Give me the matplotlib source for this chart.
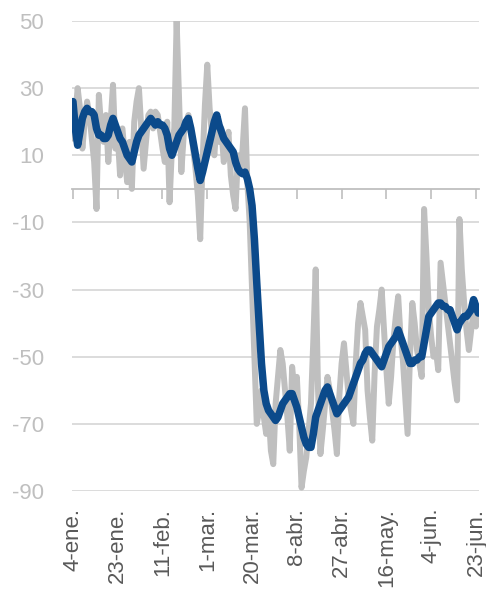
import matplotlib
matplotlib.use('Agg')
import matplotlib.pyplot as plt
import numpy as np

plt.rcParams['font.family'] = ['Liberation Sans', 'DejaVu Sans']
plt.rcParams['axes.unicode_minus'] = False

# daily values from 4-ene. (gray) and the smoothed series (blue)
gray = [15, 22, 30, 24, 12, 20, 26, 22, 15, 8,
        -6, 28, 18, 14, 22, 8, 20, 31, 12, 16,
        4, 18, 10, 2, 14, 0, 20, 26, 30, 18,
        6, 14, 22, 23, 18, 23, 22, 17, 12, 8,
        20, -4, 12, 18, 50, 28, 5, 16, 20, 22,
        18, 12, 6, -2, -15, 8, 25, 37, 24, 16,
        10, 20, 14, 18, 8, 12, 17, 4, -2, -6,
        10, 5, 12, 24, 2, -10, -30, -50, -70, -66,
        -60, -68, -73, -66, -78, -82, -64, -56, -48, -52,
        -60, -68, -78, -53, -60, -56, -70, -89, -84, -80,
        -72, -64, -45, -24, -60, -79, -72, -64, -56, -60,
        -66, -72, -79, -62, -52, -46, -54, -62, -66, -70,
        -52, -40, -34, -38, -42, -60, -68, -75, -55, -41,
        -36, -30, -42, -54, -64, -56, -45, -38, -32, -44,
        -51, -62, -73, -50, -34, -40, -48, -52, -56, -6,
        -20, -36, -44, -50, -48, -54, -22, -28, -34, -40,
        -46, -52, -58, -63, -9, -24, -34, -42, -48, -42,
        -36, -41, -38]

blue = [26, 18, 13, 17, 21, 23, 24, 23, 23, 22,
        18, 16, 16, 15, 15, 16, 19, 21, 19, 17,
        15, 14, 12, 10, 9, 8, 11, 14, 16, 17,
        18, 19, 20, 21, 20, 19, 20, 19, 19, 18,
        16, 12, 10, 12, 14, 16, 17, 18, 20, 21,
        18, 14, 10, 6, 2.5, 5, 8, 11, 14, 17,
        20, 22, 19, 17, 15, 14, 13, 12, 11, 8,
        6, 5, 4.5, 5, 3, 0, -5, -15, -28, -40,
        -52, -60, -64, -66, -67, -68, -69, -68, -66, -64,
        -63, -62, -61, -61, -63, -65, -68, -71, -74, -76,
        -77, -77, -73, -68, -66, -64, -62, -60, -59, -61,
        -63, -65, -67, -66, -65, -64, -63, -62, -60, -58,
        -56, -54, -52, -51, -49, -48, -48, -49, -50, -51,
        -52, -53, -51, -49, -47, -46, -45, -44, -42, -44,
        -46, -48, -50, -52, -52, -51, -51, -50, -50, -46,
        -42, -38, -37, -36, -35, -34, -34, -35, -35, -36,
        -36, -38, -40, -42, -40, -39, -38, -38, -37, -36,
        -33, -35, -37]

tick_days = [0, 19, 38, 57, 76, 95, 114, 133, 152, 171]
tick_labels = ['4-ene.', '23-ene.', '11-feb.', '1-mar.', '20-mar.',
               '8-abr.', '27-abr.', '16-may.', '4-jun.', '23-jun.']
y_ticks = [-90, -70, -50, -30, -10, 10, 30, 50]

fig = plt.figure(figsize=(4.86, 5.95), dpi=100)
ax = fig.add_axes([72/486, 1-491/595, 407/486, 470/595])

ax.plot(np.arange(len(gray)), gray, color='#BFBFBF', lw=4.3,
        solid_joinstyle='round', zorder=2)
ax.plot(np.arange(len(blue)), blue, color='#0B4A8B', lw=5.4,
        solid_joinstyle='round', solid_capstyle='round', zorder=3)

ax.set_xlim(-0.4, 172.3)
ax.set_ylim(-90, 50)
ax.set_yticks(y_ticks)
ax.set_xticks(tick_days)
ax.set_xticklabels(tick_labels, rotation=90, va='top', ha='center')
ax.tick_params(axis='x', length=0, pad=12, labelsize=16, labelcolor='#595959')
ax.tick_params(axis='y', length=0, pad=20, labelsize=16, labelcolor='#BFBFBF')
ax.grid(axis='y', color='#D9D9D9', lw=1.3)
ax.set_axisbelow(True)
for s in ax.spines.values():
    s.set_visible(False)

# zero line with its tick marks
sec = ax.secondary_xaxis(90/140)
sec.set_alignment('bottom')
sec.set_xticks(tick_days)
sec.tick_params(axis='x', direction='out', length=7, width=1.2,
                color='#BFBFBF', labelbottom=False, labeltop=False)
sec.spines['bottom'].set_color('#BFBFBF')
sec.spines['bottom'].set_linewidth(1.3)

plt.savefig('out.png', dpi=100)
